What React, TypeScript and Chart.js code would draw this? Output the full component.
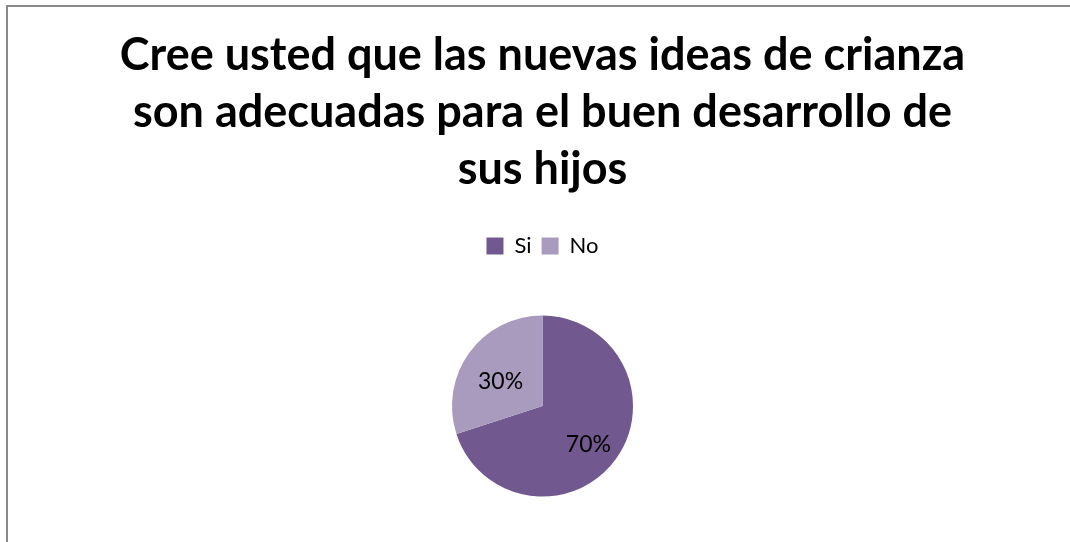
import React, { useEffect, useRef } from "react";
import { Chart, registerables } from "chart.js";

Chart.register(...registerables);

const titleLines = [
  "Cree usted que las nuevas ideas de crianza",
  "son adecuadas para el buen desarrollo de",
  "sus hijos",
];
const categories = ["Si", "No"];
const values = [70, 30];
const colors = ["#71588F", "#A99BBD"];

const FONT = "Lato, 'Open Sans', sans-serif";

const framePlugin = {
  id: "frame",
  beforeDraw(chart: any) {
    const ctx = chart.ctx;
    ctx.save();
    ctx.fillStyle = "#fff";
    ctx.fillRect(0, 0, chart.width, chart.height);
    ctx.strokeStyle = "#898989";
    ctx.lineWidth = 2;
    ctx.beginPath();
    ctx.moveTo(chart.width + 10, 6);
    ctx.lineTo(7, 6);
    ctx.lineTo(7, chart.height + 10);
    ctx.stroke();
    ctx.restore();
  },
};

const labelPlugin = {
  id: "sliceLabels",
  afterDatasetsDraw(chart: any) {
    const ctx = chart.ctx;
    const meta = chart.getDatasetMeta(0);
    ctx.save();
    ctx.fillStyle = "#000";
    ctx.font = `23px ${FONT}`;
    ctx.textAlign = "center";
    ctx.textBaseline = "middle";
    meta.data.forEach((arc: any, i: number) => {
      const p = arc.getProps(["x", "y", "startAngle", "endAngle", "outerRadius"], true);
      const mid = (p.startAngle + p.endAngle) / 2;
      const r = p.outerRadius * 0.6;
      ctx.fillText(values[i] + "%", p.x + Math.cos(mid) * r + 2, p.y + Math.sin(mid) * r + 7);
    });
    ctx.restore();
  },
};

export default function App() {
  const ref = useRef<HTMLCanvasElement | null>(null);
  useEffect(() => {
    document.documentElement.style.overflow = "hidden";
    document.body.style.margin = "0";
    document.body.style.overflow = "hidden";
    const chart = new Chart(ref.current as HTMLCanvasElement, {
      type: "pie",
      data: {
        labels: categories,
        datasets: [
          {
            data: values,
            backgroundColor: colors,
            borderWidth: 0,
            radius: 90.5,
          } as any,
        ],
      },
      options: {
        animation: false,
        responsive: false,
        maintainAspectRatio: false,
        layout: { padding: { left: 15, right: 0, top: 0, bottom: 15 } },
        plugins: {
          title: {
            display: true,
            text: titleLines,
            color: "#000",
            font: { family: FONT, size: 45, weight: "bold", lineHeight: 57 / 45 },
            padding: { top: 27, bottom: 27 },
          },
          legend: {
            display: true,
            position: "top",
            labels: {
              color: "#000",
              boxWidth: 17,
              boxHeight: 17,
              padding: 10,
              font: { family: FONT, size: 22 },
            },
          },
          tooltip: { enabled: false },
        },
      },
      plugins: [framePlugin, labelPlugin],
    });
    return () => chart.destroy();
  }, []);
  return (
    <div
      style={{
        position: "fixed",
        left: 0,
        top: 0,
        width: 1070,
        height: 542,
        overflow: "hidden",
        background: "#fff",
      }}
    >
      <canvas
        ref={ref}
        width={1070}
        height={560}
        style={{ position: "absolute", left: 0, top: 0, width: 1070, height: 560, display: "block" }}
      />
    </div>
  );
}
